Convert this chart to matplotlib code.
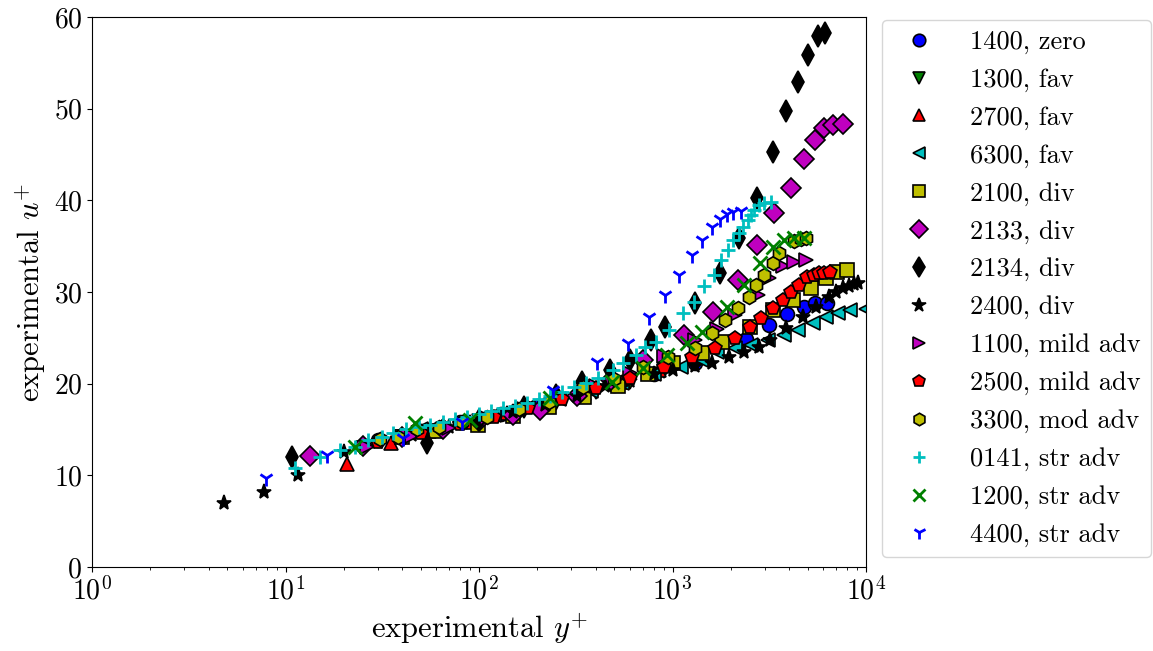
import numpy as np
import matplotlib
matplotlib.use('Agg')
import matplotlib.pyplot as plt

plt.rcParams['font.family'] = 'serif'
plt.rcParams['font.serif'] = ['cmr10']
plt.rcParams['mathtext.fontset'] = 'cm'
plt.rcParams['axes.formatter.use_mathtext'] = True
plt.rcParams['font.size'] = 19

# y+ / u+ profiles per case
yp_1400 = [30, 50, 80, 130, 200, 320, 500, 800, 1300, 2400, 3160, 3900, 4760, 5480, 6260]
up_1400 = [13.8, 14.8, 15.8, 16.7, 17.6, 18.7, 19.8, 21.0, 22.2, 24.9, 26.4, 27.6, 28.4, 28.8, 28.8]

yp_1300 = [25, 40, 65, 100, 160, 250, 400, 600, 900]
up_1300 = [13.0, 14.2, 15.0, 15.9, 16.9, 17.9, 19.1, 20.2, 21.4]

yp_2700 = [20.8, 35, 55, 90, 140, 220, 350, 550, 850, 1300]
up_2700 = [11.2, 13.5, 14.8, 15.8, 16.8, 17.8, 19.0, 20.2, 21.5, 23.0]

yp_6300 = [50, 80, 120, 180, 260, 380, 550, 800, 1100, 1400, 1693, 2093, 2553, 3120, 3766, 4443, 5295, 6175, 7200, 8280, 10000]
up_6300 = [15.0, 15.8, 16.6, 17.4, 18.3, 19.2, 20.1, 21.0, 21.8, 22.6, 23.5, 23.9, 24.2, 24.8, 25.3, 25.9, 26.6, 27.3, 27.7, 28.0, 28.1]

yp_2100 = [40, 60, 99, 150, 230, 350, 520, 750, 1000, 1420, 1800, 2500, 3310, 4190, 5180, 6180, 7110, 8000]
up_2100 = [14.2, 14.8, 15.5, 16.5, 17.5, 18.5, 19.7, 21.0, 22.3, 23.3, 24.5, 26.2, 28.0, 29.1, 30.4, 31.5, 32.2, 32.4]

yp_2133 = [13.4, 25, 40, 65, 100, 150, 207, 320, 480, 705, 1150, 1620, 2170, 2740, 3350, 4090, 4770, 5480, 6100, 6760, 7630]
up_2133 = [12.1, 13.2, 14.2, 15.0, 15.9, 16.6, 17.1, 18.6, 20.4, 22.6, 25.3, 27.8, 31.3, 35.1, 38.6, 41.3, 44.5, 46.6, 47.9, 48.2, 48.3]

yp_2134 = [10.8, 53.9, 100, 170, 250, 341, 475, 601, 770, 918, 1307, 1754, 2193, 2741, 3310, 3855, 4440, 5000, 5620, 6170]
up_2134 = [12.0, 13.5, 16.0, 17.5, 18.8, 20.2, 21.5, 22.6, 24.8, 26.2, 28.8, 32.1, 35.9, 40.3, 45.3, 49.7, 52.9, 55.9, 57.9, 58.3]

yp_2400 = [4.8, 7.7, 11.6, 20, 30, 45, 70, 100, 150, 220, 320, 450, 600, 800, 1000, 1300, 1600, 1970, 2350, 2800, 3200,
           3850, 4700, 5500, 6400, 7000, 7600, 8200, 8700, 9100]
up_2400 = [7.0, 8.2, 10.0, 12.5, 13.6, 14.4, 15.3, 16.0, 16.9, 17.7, 18.7, 19.7, 20.3, 21.0, 21.5, 21.9, 22.3, 22.9, 23.5, 24.0, 24.8,
           26.1, 27.3, 28.4, 29.5, 30.0, 30.4, 30.7, 30.9, 31.0]

yp_1100 = [26.4, 45, 70, 110, 170, 260, 400, 600, 900, 1300, 1700, 2093, 2775, 3160, 3720, 4240, 4880]
up_1100 = [13.1, 14.3, 15.2, 16.2, 17.2, 18.3, 19.7, 21.2, 23.0, 24.8, 26.0, 27.5, 29.7, 31.5, 32.8, 33.3, 33.5]

yp_2500 = [30, 50, 80, 120, 180, 270, 400, 600, 900, 1260, 1650, 2093, 2500, 2870, 3310, 3720, 4090, 4490, 4930, 5360, 5690, 6030, 6550]
up_2500 = [13.6, 14.6, 15.6, 16.4, 17.3, 18.3, 19.5, 20.6, 21.8, 22.9, 23.9, 25.0, 26.2, 27.2, 28.3, 29.1, 30.0, 30.8, 31.6, 31.9, 32.1, 32.1, 32.2]

yp_3300 = [30.8, 38, 47.8, 62, 82, 110, 160, 230, 345, 500, 700, 950, 1310, 1600, 1860, 2170, 2470, 2710, 2980, 3310, 3550, 4240, 4600, 4880]
up_3300 = [14.0, 14.2, 15.0, 15.3, 15.8, 16.4, 17.2, 18.0, 19.6, 20.5, 21.8, 22.9, 23.9, 25.5, 26.9, 28.3, 29.5, 30.8, 31.9, 33.2, 34.2, 35.6, 35.8, 35.9]

yp_0141 = [11.2, 15.1, 19.1, 22.9, 26.7, 31.5, 35.9, 42, 49, 56, 65, 75, 87, 100, 115, 133, 153, 176, 203, 234, 270, 311, 358, 410,
           490, 555, 645, 725, 820, 960, 1130, 1290, 1450, 1630, 1780, 1930, 2050, 2200, 2310, 2450, 2540, 2640, 2800, 2970, 3230]
up_0141 = [10.8, 12.0, 12.8, 13.1, 13.9, 14.2, 14.6, 15.0, 15.3, 15.5, 15.8, 16.1, 16.4, 16.7, 17.0, 17.3, 17.6, 17.9, 18.3, 18.7, 19.1, 19.6, 20.1, 20.6,
           21.5, 22.3, 23.1, 24.0, 24.5, 25.9, 27.7, 28.9, 30.6, 31.8, 33.5, 34.6, 35.7, 36.4, 37.1, 37.9, 38.4, 38.9, 39.5, 39.7, 39.8]

yp_1200 = [22.9, 46.7, 89.8, 233, 487, 705, 940, 1190, 1420, 1905, 2354, 2840, 3310, 3766, 4240, 4760]
up_1200 = [13.1, 15.7, 16.0, 18.4, 20.2, 21.7, 23.1, 24.4, 25.6, 28.4, 30.8, 33.2, 34.9, 35.7, 35.9, 35.9]

yp_4400 = [7.9, 16.4, 40.5, 81.7, 241, 407, 587, 760, 918, 1082, 1262, 1418, 1596, 1754, 1905, 2066, 2270]
up_4400 = [9.7, 12.2, 14.1, 15.8, 19.3, 22.4, 24.4, 27.3, 29.7, 31.9, 34.0, 35.7, 37.1, 38.0, 38.5, 38.7, 38.8]

labels = ['1400, zero', '1300, fav', '2700, fav', '6300, fav', '2100, div', '2133, div', '2134, div', '2400, div',
          '1100, mild adv', '2500, mild adv', '3300, mod adv', '0141, str adv', '1200, str adv', '4400, str adv']

series = [(yp_1400, up_1400, 'o', 'b', 10), (yp_1300, up_1300, 'v', 'g', 10), (yp_2700, up_2700, '^', 'r', 10),
          (yp_6300, up_6300, '<', 'c', 10), (yp_2100, up_2100, 's', 'y', 10), (yp_2133, up_2133, 'D', 'm', 10),
          (yp_2134, up_2134, 'd', 'k', 11), (yp_2400, up_2400, '*', 'k', 11), (yp_1100, up_1100, '>', 'm', 10),
          (yp_2500, up_2500, 'p', 'r', 10), (yp_3300, up_3300, 'h', 'y', 10), (yp_0141, up_0141, '+', 'c', 10),
          (yp_1200, up_1200, 'x', 'g', 10), (yp_4400, up_4400, '1', 'b', 11)]

fig = plt.figure(figsize=(11.53, 6.51), dpi=100)
ax = fig.add_axes([0.0798, 0.129, 0.6713, 0.845])

for (x, y, m, c, ms), lab in zip(series, labels):
  if m in ['+', 'x', '1']:
    ax.plot(x, y, linestyle='none', marker=m, color=c, ms=ms, mew=2, label=lab)
  else:
    ax.plot(x, y, linestyle='none', marker=m, mfc=c, mec='k', mew=1.2, ms=ms, label=lab)

ax.set_xscale('log')
ax.set_xlim(1, 1e4)
ax.set_ylim(0, 60)
ax.tick_params(labelsize=20)
ax.set_xlabel('experimental $y^{+}$', fontsize=22)
ax.set_ylabel('experimental $u^{+}$', fontsize=22)
ax.legend(loc='upper left', bbox_to_anchor=(1.017, 1.0), borderaxespad=0.1, fontsize=19, markerscale=0.9,
          handlelength=2.0, handletextpad=0.95, labelspacing=0.53)

plt.savefig('out.png', dpi=100)
